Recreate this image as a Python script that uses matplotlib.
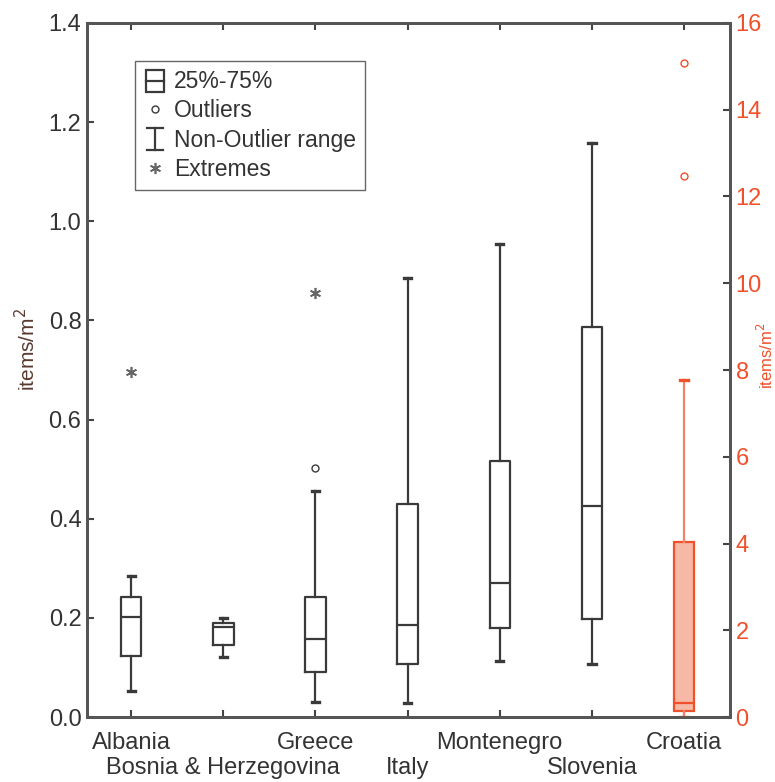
import matplotlib.pyplot as plt
from matplotlib.legend_handler import HandlerBase
from matplotlib.lines import Line2D
from matplotlib.patches import Rectangle

plt.rcParams['font.family'] = ['Liberation Sans', 'DejaVu Sans']

# summary statistics, items/m2
countries = ['Albania', 'Bosnia & Herzegovina', 'Greece', 'Italy',
             'Montenegro', 'Slovenia']
whislo = [0.052, 0.122, 0.030, 0.029, 0.113, 0.108]
q1 = [0.124, 0.145, 0.091, 0.107, 0.179, 0.197]
med = [0.201, 0.181, 0.158, 0.186, 0.270, 0.426]
q3 = [0.243, 0.189, 0.243, 0.430, 0.517, 0.787]
whishi = [0.284, 0.199, 0.455, 0.885, 0.954, 1.157]
outliers = [[], [], [0.503], [], [], []]
extremes = [[0.695], [], [0.855], [], [], []]

# Croatia is on its own (right) scale
cro_name = 'Croatia'
cro_stats = dict(whislo=0.0, q1=0.13, med=0.33, q3=4.03, whishi=7.76)
cro_outliers = [12.48, 15.07]

dark = '#3a3a3a'
red = '#f0502a'
asterisk = (6, 2, 0)


class BoxHandler(HandlerBase):
    def create_artists(self, legend, orig, xd, yd, w, h, fontsize, trans):
        bw = h * 1.1
        x0 = xd + (w - bw) / 2
        r = Rectangle((x0, yd - h * 0.25), bw, h * 1.4, fc='none', ec=dark,
                      lw=1.6, transform=trans)
        m = Line2D([x0, x0 + bw], [yd + h * 0.45] * 2, color=dark, lw=1.6,
                   transform=trans)
        return [r, m]


class WhiskerHandler(HandlerBase):
    def create_artists(self, legend, orig, xd, yd, w, h, fontsize, trans):
        cx = xd + w / 2
        cw = h * 0.5
        top, bot = yd + h * 1.15, yd - h * 0.2
        v = Line2D([cx, cx], [bot, top], color=dark, lw=1.6, transform=trans)
        t = Line2D([cx - cw, cx + cw], [top, top], color=dark, lw=1.6, transform=trans)
        b = Line2D([cx - cw, cx + cw], [bot, bot], color=dark, lw=1.6, transform=trans)
        return [v, t, b]


fig = plt.figure(figsize=(7.75, 7.82), dpi=100)
ax = fig.add_axes([0.1123, 0.083, 0.8297, 0.8877])

stats = []
for i in range(len(countries)):
    stats.append(dict(whislo=whislo[i], q1=q1[i], med=med[i], q3=q3[i],
                      whishi=whishi[i], fliers=outliers[i]))
pos = list(range(1, len(countries) + 1))
ax.bxp(stats, positions=pos, widths=0.22, showfliers=True,
       boxprops=dict(color=dark, lw=1.6),
       medianprops=dict(color=dark, lw=1.6),
       whiskerprops=dict(color=dark, lw=1.6),
       capprops=dict(color=dark, lw=2.4), capwidths=0.08,
       flierprops=dict(marker='o', ms=5, mfc='none', mec=dark, mew=1.0))
for p, ex in zip(pos, extremes):
    if ex:
        ax.plot([p] * len(ex), ex, ls='none', marker=asterisk, ms=8,
                color='#666666', mew=1.2)

ax2 = ax.twinx()
cro_pos = len(countries) + 1
ax2.bxp([dict(cro_stats, fliers=cro_outliers)], positions=[cro_pos],
        widths=0.22, patch_artist=True,
        boxprops=dict(facecolor='#f7b9a6', edgecolor=red, lw=1.6),
        medianprops=dict(color=red, lw=1.6),
        whiskerprops=dict(color='#f3826a', lw=1.6),
        capprops=dict(color=red, lw=2.4), capwidths=0.08,
        flierprops=dict(marker='o', ms=5, mfc='none', mec=red, mew=1.0))

ax.set_xlim(0.52, 7.5)
ax.set_ylim(0, 1.4)
ax2.set_ylim(0, 16)
ax.set_yticks([0, 0.2, 0.4, 0.6, 0.8, 1.0, 1.2, 1.4])
ax.set_yticklabels(['0.0', '0.2', '0.4', '0.6', '0.8', '1.0', '1.2', '1.4'])
ax2.set_yticks(range(0, 17, 2))

# country names on two staggered rows
labels = countries + [cro_name]
ticks = list(range(1, len(labels) + 1))
ax.xaxis.remove_overlapping_locs = False
ax.set_xticks(ticks)
ax.set_xticklabels([l if i % 2 == 0 else '' for i, l in enumerate(labels)])
ax.set_xticks(ticks[1::2], minor=True)
ax.set_xticklabels(labels[1::2], minor=True)

ax.tick_params(axis='both', direction='in', length=5, width=1.5, colors='#444444',
               labelsize=17, top=True, labelcolor='#333333')
ax.tick_params(axis='x', which='major', pad=11)
ax.tick_params(axis='x', which='minor', length=0, pad=29, labelsize=17,
               labelcolor='#333333')
ax.tick_params(axis='y', pad=4)
ax2.tick_params(axis='y', direction='in', length=5, width=1.5, color='#444444',
                labelsize=17, labelcolor=red, pad=4)

for a in (ax, ax2):
    for s in a.spines.values():
        s.set_color('#555555')
        s.set_linewidth(2)

ax.set_ylabel('items/m$^2$', fontsize=15, color='#5a3a30')
ax.yaxis.set_label_coords(-0.075, 0.53)
ax2.set_ylabel('items/m$^2$', fontsize=12, color=red)
ax2.yaxis.set_label_coords(1.04, 0.52)

handles = [Rectangle((0, 0), 1, 1),
           Line2D([], [], ls='none', marker='o', ms=5, mfc='none', mec=dark),
           Line2D([], []),
           Line2D([], [], ls='none', marker=asterisk, ms=8, color='#666666', mew=1.2)]
leg = ax.legend(handles, ['25%-75%', 'Outliers', 'Non-Outlier range', 'Extremes'],
                loc='upper left', bbox_to_anchor=(0.075, 0.945), fontsize=16.5,
                fancybox=False, edgecolor='#666666', framealpha=1,
                handlelength=0.9, handletextpad=0.4, labelspacing=0.27,
                borderpad=0.4, borderaxespad=0,
                handler_map={handles[0]: BoxHandler(), handles[2]: WhiskerHandler()})
leg.get_frame().set_linewidth(1.0)
for t in leg.get_texts():
    t.set_color('#333333')

fig.savefig('out.png', dpi=100)
